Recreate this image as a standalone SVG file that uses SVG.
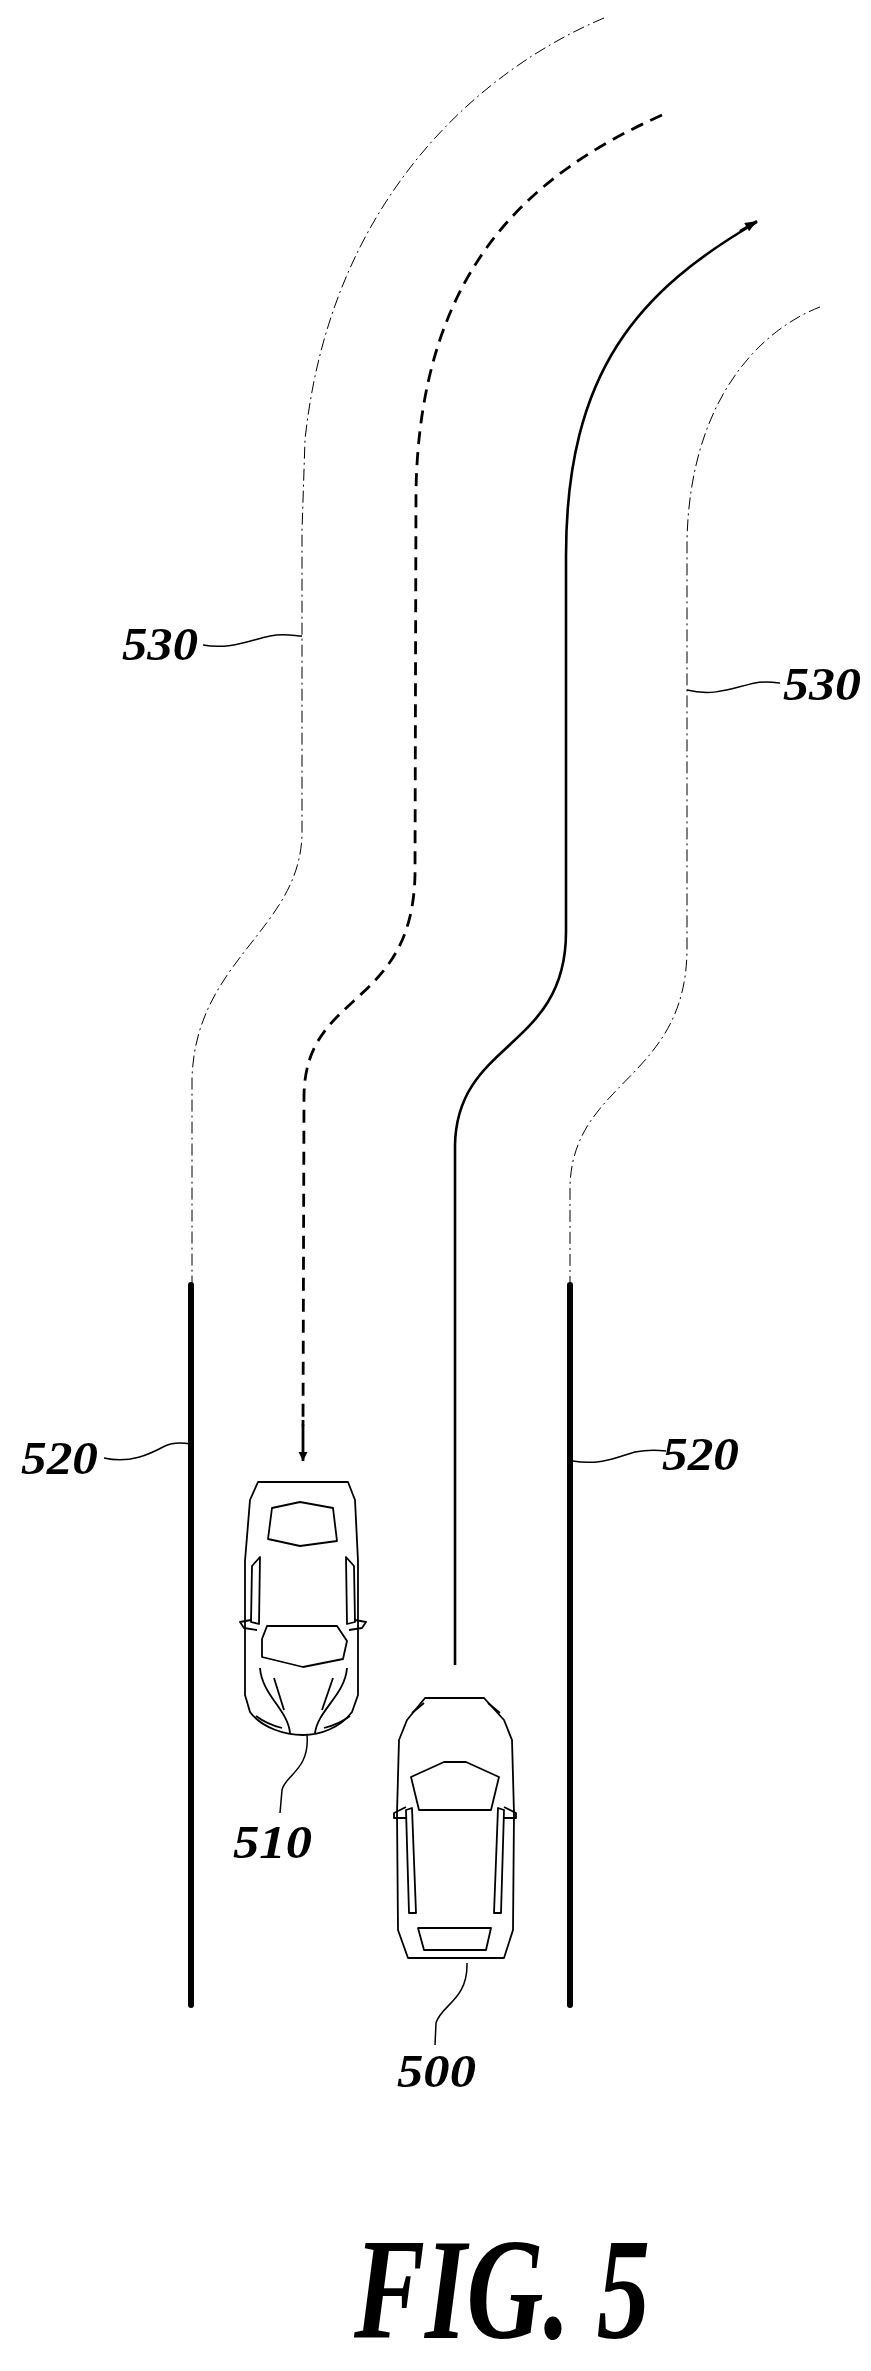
<svg xmlns="http://www.w3.org/2000/svg" width="871" height="2371" viewBox="0 0 871 2371">
<style>
.lbl{font-family:"Liberation Serif",serif;font-style:italic;font-weight:bold;font-size:46px;fill:#000}
.fig{font-family:"Liberation Serif",serif;font-style:italic;font-weight:bold;font-size:144px;fill:#000}
.bnd{fill:none;stroke:#000;stroke-width:1;stroke-dasharray:12 4 2 4}
.lead{fill:none;stroke:#000;stroke-width:1.5}
.car{fill:none;stroke:#000;stroke-width:1.8;stroke-linejoin:round}
.bar{stroke:#000;stroke-width:6;stroke-linecap:round}
</style>
<defs>
<marker id="ah" viewBox="0 0 10 10" refX="10" refY="5" markerWidth="14" markerHeight="12" markerUnits="userSpaceOnUse" orient="auto"><path d="M0,1 L10,5 L0,9 Z" fill="#000"/></marker>
<marker id="ah2" viewBox="0 0 10 10" refX="10" refY="5" markerWidth="9" markerHeight="13" markerUnits="userSpaceOnUse" orient="auto"><path d="M0,0 L10,5 L0,10 Z" fill="#000"/></marker>
</defs>
<g id="connectors">
<path id="boundary-left" class="bnd" d="M604,18 C480,70 330,200 305,440 L302,531 L302,834 C300,930 195,960 192,1079 L192,1285"/>
<path id="boundary-right" class="bnd" d="M820,307 C760,330 690,400 687,540 L687,948 C687,1080 573,1080 570,1186 L570,1285"/>
<path id="path-510" fill="none" stroke="#000" stroke-width="2.8" stroke-dasharray="13 8" d="M662,115 C540,170 420,260 416,491 L415,875 C412,1010 305,990 304,1096 L303,1426"/>
<path d="M303,1420 L303,1461" stroke="#000" stroke-width="2.8" marker-end="url(#ah2)"/>
<path id="path-500" fill="none" stroke="#000" stroke-width="2.6" d="M455,1665 L455,1145 C457,1040 566,1050 566,932 L566,556 C566,370 640,290 757,222" />
<path d="M740,231 L757,221" stroke="#000" stroke-width="2.6" marker-end="url(#ah)"/>
<path class="lead" d="M203,645 C230,650 250,640 270,636 C285,633 295,636 302,636"/>
<path class="lead" d="M687,690 C715,697 735,687 755,683 C765,681 772,682 780,683"/>
<path class="lead" d="M104,1458 C130,1464 150,1454 165,1446 C175,1441 185,1443 191,1444"/>
<path class="lead" d="M573,1461 C600,1466 620,1456 635,1452 C650,1449 658,1450 666,1451"/>
<path class="lead" d="M307,1735 C310,1770 285,1775 282,1790 L280,1813"/>
<path class="lead" d="M467,1963 C468,2000 441,2005 436,2023 L435,2045"/>
</g>
<g id="lane-520-left"><line class="bar" x1="191" y1="1285" x2="191" y2="2005"/></g>
<g id="lane-520-right"><line class="bar" x1="570" y1="1285" x2="570" y2="2005"/></g>
<g id="car-510">
<path class="car" d="M258,1482 L348,1482 L355,1500 L358,1561 L358,1695 L352,1712 C340,1728 320,1735 303,1735 C285,1735 262,1728 250,1712 L245,1695 L245,1561 L250,1500 Z"/>
<path class="car" d="M272,1508 L300,1502 L333,1508 L337,1541 L300,1546 L268,1539 Z"/>
<path class="car" d="M252,1566 L260,1557 L259,1624 L251,1622 Z M354,1566 L346,1557 L347,1624 L355,1622 Z"/>
<path class="car" d="M251,1620 L240,1622 L244,1628 L257,1630 M355,1620 L366,1622 L362,1628 L349,1630"/>
<path class="car" d="M267,1626 L337,1626 L347,1641 L343,1659 L303,1667 L262,1657 L262,1639 Z"/>
<path class="car" d="M260,1668 C262,1695 288,1710 290,1733 M347,1668 C345,1695 318,1710 315,1733 M274,1678 L284,1710 M333,1678 L322,1710"/>
<path class="car" d="M256,1716 C264,1722 274,1726 282,1728 M350,1716 C342,1722 332,1726 324,1728"/>
</g>
<g id="car-500">
<path class="car" d="M425,1698 L484,1698 L504,1720 L512,1740 L514,1813 L513,1930 L504,1958 L408,1958 L398,1930 L397,1813 L399,1740 L407,1720 Z"/>
<path class="car" d="M412,1713 L424,1703 M500,1713 L488,1703"/>
<path class="car" d="M411,1777 L444,1762 L466,1762 L499,1777 L491,1810 L419,1810 Z"/>
<path class="car" d="M406,1810 L409,1913 L416,1913 L412,1808 Z M504,1810 L501,1913 L494,1913 L498,1808 Z"/>
<path class="car" d="M406,1807 L394,1813 L394,1818 L407,1818 M504,1807 L516,1813 L516,1818 L503,1818"/>
<path class="car" d="M418,1928 L491,1928 L486,1950 L424,1950 Z"/>
</g>
<g id="labels">
<text class="lbl" x="122" y="660" textLength="76" lengthAdjust="spacingAndGlyphs">530</text>
<text class="lbl" x="783" y="700" textLength="78" lengthAdjust="spacingAndGlyphs">530</text>
<text class="lbl" x="21" y="1474" textLength="77" lengthAdjust="spacingAndGlyphs">520</text>
<text class="lbl" x="662" y="1470" textLength="77" lengthAdjust="spacingAndGlyphs">520</text>
<text class="lbl" x="233" y="1858" textLength="79" lengthAdjust="spacingAndGlyphs">510</text>
<text class="lbl" x="397" y="2087" textLength="79" lengthAdjust="spacingAndGlyphs">500</text>
<text class="fig" x="354" y="2338" textLength="296" lengthAdjust="spacingAndGlyphs">FIG. 5</text>
</g>
</svg>
